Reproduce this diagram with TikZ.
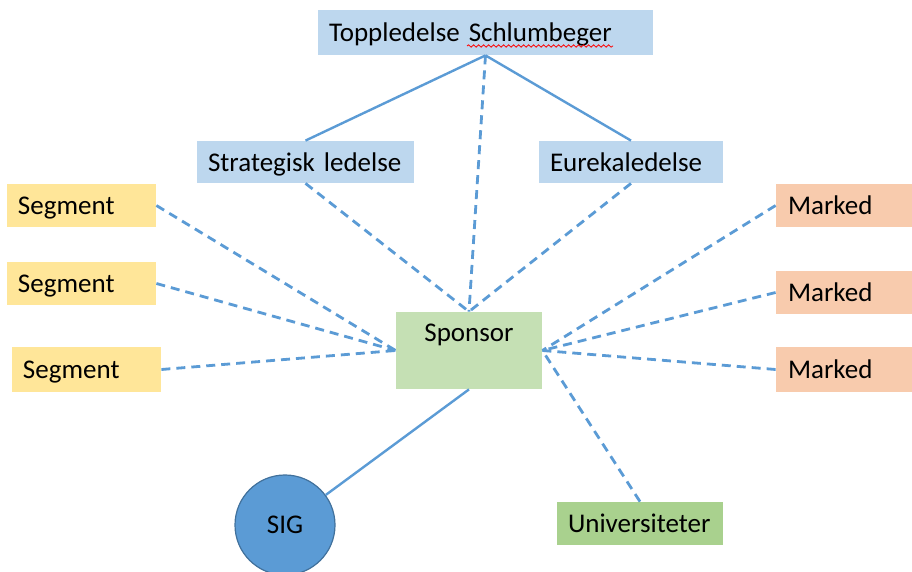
\documentclass[tikz,border=0pt]{standalone}
\usepackage{fontspec}
\setmainfont{Carlito}
\usepackage{tikz}
\usetikzlibrary{positioning,decorations.pathmorphing}

\definecolor{mgmtblue}{HTML}{BDD7EE}
\definecolor{segyellow}{HTML}{FFE699}
\definecolor{mktorange}{HTML}{F8CBAD}
\definecolor{sponsgreen}{HTML}{C5E0B4}
\definecolor{unigreen}{HTML}{A9D18E}
\definecolor{sigblue}{HTML}{5B9BD5}
\definecolor{sigedge}{HTML}{41719C}
\definecolor{linkblue}{HTML}{5B9BD5}

\begin{document}
\begin{tikzpicture}[x=0.5pt, y=-0.5pt,
  every node/.style={font=\fontsize{13.5}{16}\selectfont},
  box/.style={text height=11.5pt, text depth=2pt, inner ysep=0pt},
  mgmt/.style={box, fill=mgmtblue, minimum height=21pt, inner xsep=5.5pt, align=left},
  seg/.style={box, fill=segyellow, minimum width=74.5pt, minimum height=21.5pt, inner xsep=5.5pt, text width=63.5pt, align=left},
  mkt/.style={box, fill=mktorange, minimum width=68pt, minimum height=21.5pt, inner xsep=6pt, text width=56pt, align=left},
  spons/.style={fill=sponsgreen, minimum width=73pt, inner ysep=0pt, text height=15pt, text depth=23.5pt, align=center},
  uni/.style={box, fill=unigreen, minimum width=83pt, minimum height=21.5pt, inner xsep=5.5pt, text width=72pt, align=left},
  circ/.style={circle, draw=sigedge, line width=0.6pt, fill=sigblue, minimum size=50pt, inner sep=0pt},
  arr/.style={draw=linkblue, line width=1.2pt},
  dsh/.style={arr, line width=1.4pt, dash pattern=on 4.5pt off 3pt}
]
\useasboundingbox (0,0) rectangle (912,572);

% Ledelse
\node[mgmt, minimum width=167.5pt, minimum height=22.5pt, text width=156.5pt] (top) at (485.5,32.5) {Toppledelse Schlumbeger};
\node[mgmt, minimum width=108.5pt, text width=97.5pt] (strat) at (305.5,162) {Strategisk ledelse};
\node[mgmt, minimum width=92pt, text width=81pt] (eureka) at (631,162) {Eurekaledelse};

% spell check mark
\draw[red, line width=0.4pt, decorate, decoration={snake, amplitude=0.6pt, segment length=2.5pt}] (467,46) -- (613,46);

% Sponsor
\node[spons] (sponsor) at (469,350.5) {Sponsor};

% Segmenter
\node[seg] (seg1) at (81.5,205.5) {Segment};
\node[seg] (seg2) at (81.5,283.5) {Segment};
\node[seg, minimum height=22.5pt] (seg3) at (86.5,369.5) {Segment};

% Markeder
\node[mkt] (mkt1) at (844,205.5) {Marked};
\node[mkt] (mkt2) at (844,292.5) {Marked};
\node[mkt, minimum height=22.5pt] (mkt3) at (844,369.5) {Marked};

% SIG og universiteter
\node[circ] (sig) at (285,525) {SIG};
\node[uni] (uni) at (640,523.5) {Universiteter};

% Linjer fra toppledelse
\draw[arr] (top.south) -- (strat.north);
\draw[arr] (top.south) -- (eureka.north);
\draw[dsh] (top.south) -- (sponsor.north);
\draw[dsh] (strat.south) -- (sponsor.north);
\draw[dsh] (eureka.south) -- (sponsor.north);

% Segmenter og markeder
\foreach \n in {seg1,seg2,seg3}
  \draw[dsh] (\n.east) -- (sponsor.west);
\foreach \n in {mkt1,mkt2,mkt3}
  \draw[dsh] (\n.west) -- (sponsor.east);
\draw[dsh] (uni.north) -- (sponsor.east);

\draw[arr] (sponsor.south) -- (sig);
\end{tikzpicture}
\end{document}
